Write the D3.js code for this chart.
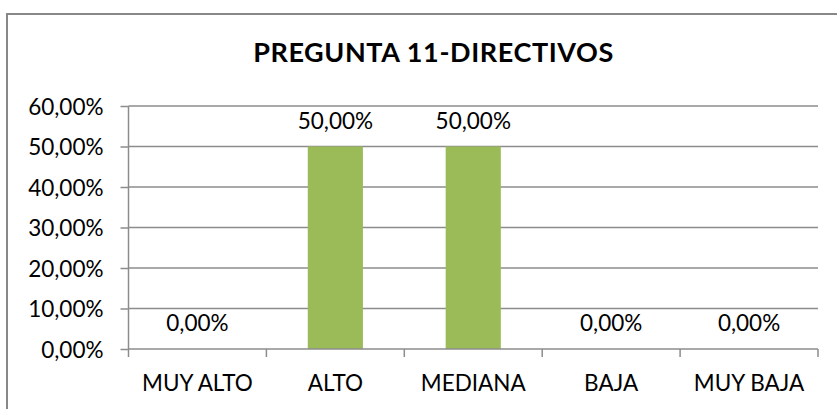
<!DOCTYPE html>
<html>
<head>
<meta charset="utf-8">
<script src="https://cdn.jsdelivr.net/npm/d3@7"></script>
<style>
  html, body { margin: 0; padding: 0; background: #fff; }
  svg { display: block; }
  text { font-family: Lato, "Open Sans", sans-serif; fill: #000; }
</style>
</head>
<body>
<script>
const title = "PREGUNTA 11-DIRECTIVOS";
const categories = ["MUY ALTO", "ALTO", "MEDIANA", "BAJA", "MUY BAJA"];
const values = [0.0, 0.5, 0.5, 0.0, 0.0];
const yTicks = [0, 0.1, 0.2, 0.3, 0.4, 0.5, 0.6];

(function () {
const W = 837, H = 409;
const fmt = v => (v * 100).toFixed(2).replace(".", ",") + "%";
const fs = 22.5;

const svg = d3.select("body").append("svg").attr("width", W).attr("height", H);

// outer chart frame (extends past the right/bottom edge like the reference)
svg.append("rect")
  .attr("x", 7).attr("y", 14).attr("width", 860).attr("height", 420)
  .attr("fill", "#fff").attr("stroke", "#888").attr("stroke-width", 2);

svg.append("text")
  .attr("x", 433.5).attr("y", 62)
  .attr("text-anchor", "middle")
  .attr("font-weight", "bold").attr("font-size", 27)
  .attr("letter-spacing", 0.6)
  .text(title);

const pL = 128.5, pR = 818, pT = 106, pB = 349;

const x = d3.scaleBand().domain(categories).range([pL, pR]).paddingInner(0).paddingOuter(0);
const y = d3.scaleLinear().domain([0, 0.6]).range([pB, pT]);

const grid = "#8c8c8c";

// gridlines
svg.append("g").selectAll("line").data(yTicks.filter(d => d > 0)).join("line")
  .attr("x1", pL).attr("x2", pR)
  .attr("y1", d => y(d)).attr("y2", d => y(d))
  .attr("stroke", grid).attr("stroke-width", 1.5);

// bars
const bw = x.bandwidth() * 0.4;
svg.append("g").selectAll("rect").data(values).join("rect")
  .attr("x", (d, i) => x(categories[i]) + (x.bandwidth() - bw) / 2)
  .attr("width", bw)
  .attr("y", d => y(d))
  .attr("height", d => y(0) - y(d))
  .attr("fill", "#9BBB59");

// y axis
const yAxis = d3.axisLeft(y).tickValues(yTicks).tickFormat(fmt).tickSize(8).tickPadding(17);
const gy = svg.append("g").attr("transform", `translate(${pL},0)`).call(yAxis);
gy.select(".domain").attr("stroke", grid).attr("stroke-width", 1.5).attr("d", `M0,${pT}V${pB}`);
gy.selectAll(".tick line").attr("stroke", grid).attr("stroke-width", 1.5);
gy.selectAll(".tick text").attr("font-size", fs).attr("font-family", "Lato, sans-serif").attr("fill", "#000").attr("dy", "0.36em");

// x axis
const xAxis = d3.axisBottom(x).tickSize(0).tickPadding(26);
const gx = svg.append("g").attr("transform", `translate(0,${pB})`).call(xAxis);
gx.select(".domain").attr("stroke", grid).attr("stroke-width", 1.5).attr("d", `M${pL},0H${pR}`);
gx.selectAll(".tick text").attr("font-size", fs).attr("font-family", "Lato, sans-serif").attr("fill", "#000");
// boundary ticks between categories
const bounds = categories.map(c => x(c)).concat([pR]);
svg.append("g").selectAll("line").data(bounds).join("line")
  .attr("x1", d => d).attr("x2", d => d)
  .attr("y1", pB).attr("y2", pB + 8)
  .attr("stroke", grid).attr("stroke-width", 1.5);

// data labels
svg.append("g").selectAll("text").data(values).join("text")
  .attr("x", (d, i) => x(categories[i]) + x.bandwidth() / 2)
  .attr("y", d => y(d) - 18)
  .attr("text-anchor", "middle")
  .attr("font-size", fs)
  .text(d => fmt(d));
})();
</script>
</body>
</html>
